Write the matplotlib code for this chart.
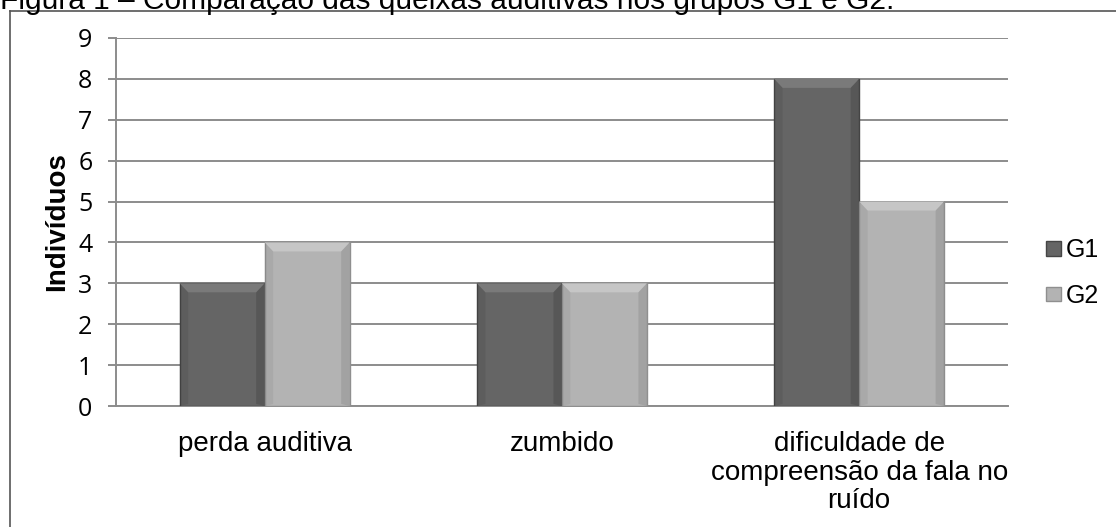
import numpy as np
import matplotlib.pyplot as plt
from matplotlib.patches import Polygon
from matplotlib.lines import Line2D

plt.rcParams['font.family'] = ['Liberation Sans', 'DejaVu Sans']

# dados
categorias = ['perda auditiva', 'zumbido', 'dificuldade de\ncompreensão da fala no\nruído']
g1 = [3, 3, 8]
g2 = [4, 3, 5]
yticks = [0, 1, 2, 3, 4, 5, 6, 7, 8, 9]

cor_g1 = '#656565'
cor_g2 = '#b3b3b3'

fig = plt.figure(figsize=(11.16, 5.27), dpi=100)
ax = fig.add_axes([0.104, 0.2296, 0.799, 0.6983])

x = np.arange(len(categorias))
w = 0.286
b1 = ax.bar(x - w / 2, g1, w, color=cor_g1, edgecolor='#454545', linewidth=1.0, zorder=3)
b2 = ax.bar(x + w / 2, g2, w, color=cor_g2, edgecolor='#8f8f8f', linewidth=1.0, zorder=3)


# chanfro leve em cada barra
def chanfro(bars, claro, escuro):
    for p in bars.patches:
        x0, y0 = p.get_x(), p.get_y()
        bw, bh = p.get_width(), p.get_height()
        dx = bw * 0.1
        dy = 0.22
        topo = Polygon([[x0, y0 + bh], [x0 + bw, y0 + bh], [x0 + bw - dx, y0 + bh - dy],
                        [x0 + dx, y0 + bh - dy]], closed=True, color=claro, zorder=4, lw=0)
        esq = Polygon([[x0, y0], [x0, y0 + bh], [x0 + dx, y0 + bh - dy], [x0 + dx, y0 + 0.05]],
                      closed=True, color=escuro, alpha=0.15, zorder=4, lw=0)
        dir_ = Polygon([[x0 + bw, y0], [x0 + bw, y0 + bh], [x0 + bw - dx, y0 + bh - dy],
                        [x0 + bw - dx, y0 + 0.05]], closed=True, color=escuro, alpha=0.25, zorder=4, lw=0)
        ax.add_patch(topo)
        ax.add_patch(esq)
        ax.add_patch(dir_)


chanfro(b1, '#7a7a7a', '#303030')
chanfro(b2, '#c6c6c6', '#707070')

ax.set_xlim(-0.5, 2.5)
ax.set_ylim(0, 9)
ax.set_yticks(yticks)
ax.set_yticklabels([str(v) for v in yticks], fontsize=18, family=['Open Sans', 'DejaVu Sans'])
ax.yaxis.grid(True, color='#8c8c8c', linewidth=1.4, zorder=0)
ax.set_axisbelow(True)
ax.tick_params(axis='y', length=6, width=1.4, color='#8c8c8c', pad=11)
ax.set_xticks(x)
ax.set_xticklabels(categorias, fontsize=20, linespacing=1.13)
ax.tick_params(axis='x', length=0, pad=18)
for s in ['top', 'right']:
    ax.spines[s].set_visible(False)
ax.spines['left'].set_color('#8c8c8c')
ax.spines['left'].set_linewidth(1.4)
ax.spines['bottom'].set_color('#8c8c8c')
ax.spines['bottom'].set_linewidth(1.4)

ax.set_ylabel('Indivíduos', fontsize=20, fontweight='bold')
ax.yaxis.set_label_coords(-0.052, 0.5)

fig.legend([b1, b2], ['G1', 'G2'], loc='center left',
           bbox_to_anchor=(1046 / 1116, 1 - 273 / 527), bbox_transform=fig.transFigure,
           frameon=False, fontsize=18, handlelength=0.6, handleheight=0.5,
           handletextpad=0.2, labelspacing=0.85, borderpad=0, borderaxespad=0)

# moldura externa
fig.add_artist(Line2D([10 / 1116, 10 / 1116], [0, 1 - 11 / 527], color='#555555', lw=1.2))
fig.add_artist(Line2D([10 / 1116, 1], [1 - 11 / 527, 1 - 11 / 527], color='#555555', lw=1.2))

# título cortado no topo
fig.text(0.0, 1 - 9 / 527, 'Figura 1 – Comparação das queixas auditivas nos grupos G1 e G2.',
         fontsize=21.5, ha='left', va='baseline')

fig.savefig('out.png', dpi=100)
